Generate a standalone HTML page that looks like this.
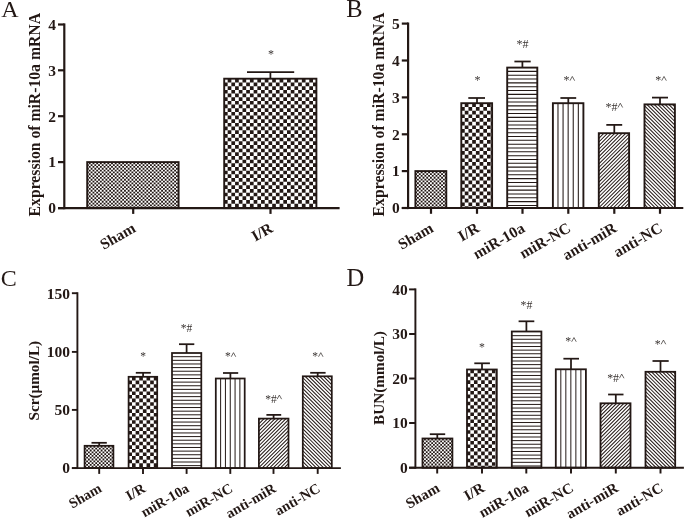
<!DOCTYPE html>
<html><head><meta charset="utf-8"><title>Figure</title>
<style>
html,body{margin:0;padding:0;background:#fff;}
body{width:685px;height:519px;overflow:hidden;font-family:"Liberation Serif",serif;}
svg{display:block;will-change:transform;}
</style></head><body>
<svg width="685" height="519" viewBox="0 0 685 519">
<rect width="685" height="519" fill="#fff"/>

<g id="panelA">
<clipPath id="c1"><rect x="87.2" y="162.1" width="91.40" height="46.00"/></clipPath>
<g clip-path="url(#c1)">
<line x1="88.80" y1="163.22" x2="178.60" y2="163.22" stroke="#231815" stroke-width="1.835" stroke-dasharray="1.855 1.855"/>
<line x1="86.94" y1="165.05" x2="178.60" y2="165.05" stroke="#231815" stroke-width="1.835" stroke-dasharray="1.855 1.855"/>
<line x1="88.80" y1="166.89" x2="178.60" y2="166.89" stroke="#231815" stroke-width="1.835" stroke-dasharray="1.855 1.855"/>
<line x1="86.94" y1="168.72" x2="178.60" y2="168.72" stroke="#231815" stroke-width="1.835" stroke-dasharray="1.855 1.855"/>
<line x1="88.80" y1="170.56" x2="178.60" y2="170.56" stroke="#231815" stroke-width="1.835" stroke-dasharray="1.855 1.855"/>
<line x1="86.94" y1="172.39" x2="178.60" y2="172.39" stroke="#231815" stroke-width="1.835" stroke-dasharray="1.855 1.855"/>
<line x1="88.80" y1="174.23" x2="178.60" y2="174.23" stroke="#231815" stroke-width="1.835" stroke-dasharray="1.855 1.855"/>
<line x1="86.94" y1="176.06" x2="178.60" y2="176.06" stroke="#231815" stroke-width="1.835" stroke-dasharray="1.855 1.855"/>
<line x1="88.80" y1="177.90" x2="178.60" y2="177.90" stroke="#231815" stroke-width="1.835" stroke-dasharray="1.855 1.855"/>
<line x1="86.94" y1="179.73" x2="178.60" y2="179.73" stroke="#231815" stroke-width="1.835" stroke-dasharray="1.855 1.855"/>
<line x1="88.80" y1="181.57" x2="178.60" y2="181.57" stroke="#231815" stroke-width="1.835" stroke-dasharray="1.855 1.855"/>
<line x1="86.94" y1="183.40" x2="178.60" y2="183.40" stroke="#231815" stroke-width="1.835" stroke-dasharray="1.855 1.855"/>
<line x1="88.80" y1="185.24" x2="178.60" y2="185.24" stroke="#231815" stroke-width="1.835" stroke-dasharray="1.855 1.855"/>
<line x1="86.94" y1="187.07" x2="178.60" y2="187.07" stroke="#231815" stroke-width="1.835" stroke-dasharray="1.855 1.855"/>
<line x1="88.80" y1="188.91" x2="178.60" y2="188.91" stroke="#231815" stroke-width="1.835" stroke-dasharray="1.855 1.855"/>
<line x1="86.94" y1="190.74" x2="178.60" y2="190.74" stroke="#231815" stroke-width="1.835" stroke-dasharray="1.855 1.855"/>
<line x1="88.80" y1="192.58" x2="178.60" y2="192.58" stroke="#231815" stroke-width="1.835" stroke-dasharray="1.855 1.855"/>
<line x1="86.94" y1="194.41" x2="178.60" y2="194.41" stroke="#231815" stroke-width="1.835" stroke-dasharray="1.855 1.855"/>
<line x1="88.80" y1="196.25" x2="178.60" y2="196.25" stroke="#231815" stroke-width="1.835" stroke-dasharray="1.855 1.855"/>
<line x1="86.94" y1="198.08" x2="178.60" y2="198.08" stroke="#231815" stroke-width="1.835" stroke-dasharray="1.855 1.855"/>
<line x1="88.80" y1="199.92" x2="178.60" y2="199.92" stroke="#231815" stroke-width="1.835" stroke-dasharray="1.855 1.855"/>
<line x1="86.94" y1="201.75" x2="178.60" y2="201.75" stroke="#231815" stroke-width="1.835" stroke-dasharray="1.855 1.855"/>
<line x1="88.80" y1="203.59" x2="178.60" y2="203.59" stroke="#231815" stroke-width="1.835" stroke-dasharray="1.855 1.855"/>
<line x1="86.94" y1="205.42" x2="178.60" y2="205.42" stroke="#231815" stroke-width="1.835" stroke-dasharray="1.855 1.855"/>
<line x1="88.80" y1="207.26" x2="178.60" y2="207.26" stroke="#231815" stroke-width="1.835" stroke-dasharray="1.855 1.855"/>
</g>
<rect x="87.2" y="162.1" width="91.40" height="46.00" fill="none" stroke="#231815" stroke-width="1.9"/>
<line x1="270.4" y1="78.7" x2="270.4" y2="72.0" stroke="#231815" stroke-width="1.75"/>
<line x1="247.0" y1="72.0" x2="294.2" y2="72.0" stroke="#231815" stroke-width="1.75"/>
<clipPath id="c2"><rect x="224.2" y="78.7" width="92.20" height="129.40"/></clipPath>
<g clip-path="url(#c2)">
<line x1="227.65" y1="80.73" x2="316.40" y2="80.73" stroke="#231815" stroke-width="3.670" stroke-dasharray="3.710 3.710"/>
<line x1="223.94" y1="84.41" x2="316.40" y2="84.41" stroke="#231815" stroke-width="3.670" stroke-dasharray="3.710 3.710"/>
<line x1="227.65" y1="88.08" x2="316.40" y2="88.08" stroke="#231815" stroke-width="3.670" stroke-dasharray="3.710 3.710"/>
<line x1="223.94" y1="91.75" x2="316.40" y2="91.75" stroke="#231815" stroke-width="3.670" stroke-dasharray="3.710 3.710"/>
<line x1="227.65" y1="95.42" x2="316.40" y2="95.42" stroke="#231815" stroke-width="3.670" stroke-dasharray="3.710 3.710"/>
<line x1="223.94" y1="99.09" x2="316.40" y2="99.09" stroke="#231815" stroke-width="3.670" stroke-dasharray="3.710 3.710"/>
<line x1="227.65" y1="102.76" x2="316.40" y2="102.76" stroke="#231815" stroke-width="3.670" stroke-dasharray="3.710 3.710"/>
<line x1="223.94" y1="106.43" x2="316.40" y2="106.43" stroke="#231815" stroke-width="3.670" stroke-dasharray="3.710 3.710"/>
<line x1="227.65" y1="110.10" x2="316.40" y2="110.10" stroke="#231815" stroke-width="3.670" stroke-dasharray="3.710 3.710"/>
<line x1="223.94" y1="113.77" x2="316.40" y2="113.77" stroke="#231815" stroke-width="3.670" stroke-dasharray="3.710 3.710"/>
<line x1="227.65" y1="117.44" x2="316.40" y2="117.44" stroke="#231815" stroke-width="3.670" stroke-dasharray="3.710 3.710"/>
<line x1="223.94" y1="121.11" x2="316.40" y2="121.11" stroke="#231815" stroke-width="3.670" stroke-dasharray="3.710 3.710"/>
<line x1="227.65" y1="124.78" x2="316.40" y2="124.78" stroke="#231815" stroke-width="3.670" stroke-dasharray="3.710 3.710"/>
<line x1="223.94" y1="128.45" x2="316.40" y2="128.45" stroke="#231815" stroke-width="3.670" stroke-dasharray="3.710 3.710"/>
<line x1="227.65" y1="132.12" x2="316.40" y2="132.12" stroke="#231815" stroke-width="3.670" stroke-dasharray="3.710 3.710"/>
<line x1="223.94" y1="135.79" x2="316.40" y2="135.79" stroke="#231815" stroke-width="3.670" stroke-dasharray="3.710 3.710"/>
<line x1="227.65" y1="139.46" x2="316.40" y2="139.46" stroke="#231815" stroke-width="3.670" stroke-dasharray="3.710 3.710"/>
<line x1="223.94" y1="143.12" x2="316.40" y2="143.12" stroke="#231815" stroke-width="3.670" stroke-dasharray="3.710 3.710"/>
<line x1="227.65" y1="146.79" x2="316.40" y2="146.79" stroke="#231815" stroke-width="3.670" stroke-dasharray="3.710 3.710"/>
<line x1="223.94" y1="150.46" x2="316.40" y2="150.46" stroke="#231815" stroke-width="3.670" stroke-dasharray="3.710 3.710"/>
<line x1="227.65" y1="154.13" x2="316.40" y2="154.13" stroke="#231815" stroke-width="3.670" stroke-dasharray="3.710 3.710"/>
<line x1="223.94" y1="157.80" x2="316.40" y2="157.80" stroke="#231815" stroke-width="3.670" stroke-dasharray="3.710 3.710"/>
<line x1="227.65" y1="161.47" x2="316.40" y2="161.47" stroke="#231815" stroke-width="3.670" stroke-dasharray="3.710 3.710"/>
<line x1="223.94" y1="165.14" x2="316.40" y2="165.14" stroke="#231815" stroke-width="3.670" stroke-dasharray="3.710 3.710"/>
<line x1="227.65" y1="168.81" x2="316.40" y2="168.81" stroke="#231815" stroke-width="3.670" stroke-dasharray="3.710 3.710"/>
<line x1="223.94" y1="172.48" x2="316.40" y2="172.48" stroke="#231815" stroke-width="3.670" stroke-dasharray="3.710 3.710"/>
<line x1="227.65" y1="176.15" x2="316.40" y2="176.15" stroke="#231815" stroke-width="3.670" stroke-dasharray="3.710 3.710"/>
<line x1="223.94" y1="179.82" x2="316.40" y2="179.82" stroke="#231815" stroke-width="3.670" stroke-dasharray="3.710 3.710"/>
<line x1="227.65" y1="183.49" x2="316.40" y2="183.49" stroke="#231815" stroke-width="3.670" stroke-dasharray="3.710 3.710"/>
<line x1="223.94" y1="187.16" x2="316.40" y2="187.16" stroke="#231815" stroke-width="3.670" stroke-dasharray="3.710 3.710"/>
<line x1="227.65" y1="190.83" x2="316.40" y2="190.83" stroke="#231815" stroke-width="3.670" stroke-dasharray="3.710 3.710"/>
<line x1="223.94" y1="194.50" x2="316.40" y2="194.50" stroke="#231815" stroke-width="3.670" stroke-dasharray="3.710 3.710"/>
<line x1="227.65" y1="198.17" x2="316.40" y2="198.17" stroke="#231815" stroke-width="3.670" stroke-dasharray="3.710 3.710"/>
<line x1="223.94" y1="201.84" x2="316.40" y2="201.84" stroke="#231815" stroke-width="3.670" stroke-dasharray="3.710 3.710"/>
<line x1="227.65" y1="205.51" x2="316.40" y2="205.51" stroke="#231815" stroke-width="3.670" stroke-dasharray="3.710 3.710"/>
<line x1="223.94" y1="209.18" x2="316.40" y2="209.18" stroke="#231815" stroke-width="3.670" stroke-dasharray="3.710 3.710"/>
</g>
<rect x="224.2" y="78.7" width="92.20" height="129.40" fill="none" stroke="#231815" stroke-width="1.9"/>
<text x="267.90" y="57.60" font-family="Liberation Serif, serif" font-size="12" fill="#3a3432">*</text>
<line x1="64.3" y1="23.4" x2="64.3" y2="209.2" stroke="#231815" stroke-width="2.2"/>
<line x1="58.0" y1="208.1" x2="339.6" y2="208.1" stroke="#231815" stroke-width="2.2"/>
<line x1="58.0" y1="208.1" x2="64.3" y2="208.1" stroke="#231815" stroke-width="2.2"/>
<text x="56.0" y="213.4" font-family="Liberation Serif, serif" font-weight="bold" font-size="15.5" fill="#231815" text-anchor="end">0</text>
<line x1="58.0" y1="162.1" x2="64.3" y2="162.1" stroke="#231815" stroke-width="2.2"/>
<text x="56.0" y="167.4" font-family="Liberation Serif, serif" font-weight="bold" font-size="15.5" fill="#231815" text-anchor="end">1</text>
<line x1="58.0" y1="116.2" x2="64.3" y2="116.2" stroke="#231815" stroke-width="2.2"/>
<text x="56.0" y="121.5" font-family="Liberation Serif, serif" font-weight="bold" font-size="15.5" fill="#231815" text-anchor="end">2</text>
<line x1="58.0" y1="70.3" x2="64.3" y2="70.3" stroke="#231815" stroke-width="2.2"/>
<text x="56.0" y="75.6" font-family="Liberation Serif, serif" font-weight="bold" font-size="15.5" fill="#231815" text-anchor="end">3</text>
<line x1="58.0" y1="24.5" x2="64.3" y2="24.5" stroke="#231815" stroke-width="2.2"/>
<text x="56.0" y="29.8" font-family="Liberation Serif, serif" font-weight="bold" font-size="15.5" fill="#231815" text-anchor="end">4</text>
<line x1="133.2" y1="208.1" x2="133.2" y2="213.9" stroke="#231815" stroke-width="2.2"/>
<text transform="translate(136.7,231.1) rotate(-30)" font-family="Liberation Serif, serif" font-weight="bold" font-size="15.5" fill="#231815" text-anchor="end">Sham</text>
<line x1="270.5" y1="208.1" x2="270.5" y2="213.9" stroke="#231815" stroke-width="2.2"/>
<text transform="translate(274.0,231.1) rotate(-30)" font-family="Liberation Serif, serif" font-weight="bold" font-size="15.5" fill="#231815" text-anchor="end">I/R</text>
<text transform="translate(39.8,216.4) rotate(-90)" font-family="Liberation Serif, serif" font-weight="bold" font-size="16" fill="#231815" textLength="203.4" lengthAdjust="spacingAndGlyphs">Expression of miR-10a mRNA</text>
<text x="1.3" y="17.2" font-family="Liberation Serif, serif" font-size="24" fill="#231815">A</text>
</g>
<g id="panelB">
<clipPath id="c3"><rect x="415.4" y="171.1" width="30.90" height="36.90"/></clipPath>
<g clip-path="url(#c3)">
<line x1="417.00" y1="172.22" x2="446.30" y2="172.22" stroke="#231815" stroke-width="1.835" stroke-dasharray="1.855 1.855"/>
<line x1="415.14" y1="174.05" x2="446.30" y2="174.05" stroke="#231815" stroke-width="1.835" stroke-dasharray="1.855 1.855"/>
<line x1="417.00" y1="175.89" x2="446.30" y2="175.89" stroke="#231815" stroke-width="1.835" stroke-dasharray="1.855 1.855"/>
<line x1="415.14" y1="177.72" x2="446.30" y2="177.72" stroke="#231815" stroke-width="1.835" stroke-dasharray="1.855 1.855"/>
<line x1="417.00" y1="179.56" x2="446.30" y2="179.56" stroke="#231815" stroke-width="1.835" stroke-dasharray="1.855 1.855"/>
<line x1="415.14" y1="181.39" x2="446.30" y2="181.39" stroke="#231815" stroke-width="1.835" stroke-dasharray="1.855 1.855"/>
<line x1="417.00" y1="183.23" x2="446.30" y2="183.23" stroke="#231815" stroke-width="1.835" stroke-dasharray="1.855 1.855"/>
<line x1="415.14" y1="185.06" x2="446.30" y2="185.06" stroke="#231815" stroke-width="1.835" stroke-dasharray="1.855 1.855"/>
<line x1="417.00" y1="186.90" x2="446.30" y2="186.90" stroke="#231815" stroke-width="1.835" stroke-dasharray="1.855 1.855"/>
<line x1="415.14" y1="188.73" x2="446.30" y2="188.73" stroke="#231815" stroke-width="1.835" stroke-dasharray="1.855 1.855"/>
<line x1="417.00" y1="190.57" x2="446.30" y2="190.57" stroke="#231815" stroke-width="1.835" stroke-dasharray="1.855 1.855"/>
<line x1="415.14" y1="192.40" x2="446.30" y2="192.40" stroke="#231815" stroke-width="1.835" stroke-dasharray="1.855 1.855"/>
<line x1="417.00" y1="194.24" x2="446.30" y2="194.24" stroke="#231815" stroke-width="1.835" stroke-dasharray="1.855 1.855"/>
<line x1="415.14" y1="196.07" x2="446.30" y2="196.07" stroke="#231815" stroke-width="1.835" stroke-dasharray="1.855 1.855"/>
<line x1="417.00" y1="197.91" x2="446.30" y2="197.91" stroke="#231815" stroke-width="1.835" stroke-dasharray="1.855 1.855"/>
<line x1="415.14" y1="199.74" x2="446.30" y2="199.74" stroke="#231815" stroke-width="1.835" stroke-dasharray="1.855 1.855"/>
<line x1="417.00" y1="201.58" x2="446.30" y2="201.58" stroke="#231815" stroke-width="1.835" stroke-dasharray="1.855 1.855"/>
<line x1="415.14" y1="203.41" x2="446.30" y2="203.41" stroke="#231815" stroke-width="1.835" stroke-dasharray="1.855 1.855"/>
<line x1="417.00" y1="205.25" x2="446.30" y2="205.25" stroke="#231815" stroke-width="1.835" stroke-dasharray="1.855 1.855"/>
<line x1="415.14" y1="207.08" x2="446.30" y2="207.08" stroke="#231815" stroke-width="1.835" stroke-dasharray="1.855 1.855"/>
</g>
<rect x="415.4" y="171.1" width="30.90" height="36.90" fill="none" stroke="#231815" stroke-width="1.9"/>
<line x1="477.0" y1="103.2" x2="477.0" y2="98.0" stroke="#231815" stroke-width="1.75"/>
<line x1="468.3" y1="98.0" x2="485.0" y2="98.0" stroke="#231815" stroke-width="1.75"/>
<clipPath id="c4"><rect x="461.3" y="103.2" width="30.80" height="104.80"/></clipPath>
<g clip-path="url(#c4)">
<line x1="464.75" y1="105.23" x2="492.10" y2="105.23" stroke="#231815" stroke-width="3.670" stroke-dasharray="3.710 3.710"/>
<line x1="461.04" y1="108.91" x2="492.10" y2="108.91" stroke="#231815" stroke-width="3.670" stroke-dasharray="3.710 3.710"/>
<line x1="464.75" y1="112.58" x2="492.10" y2="112.58" stroke="#231815" stroke-width="3.670" stroke-dasharray="3.710 3.710"/>
<line x1="461.04" y1="116.25" x2="492.10" y2="116.25" stroke="#231815" stroke-width="3.670" stroke-dasharray="3.710 3.710"/>
<line x1="464.75" y1="119.92" x2="492.10" y2="119.92" stroke="#231815" stroke-width="3.670" stroke-dasharray="3.710 3.710"/>
<line x1="461.04" y1="123.59" x2="492.10" y2="123.59" stroke="#231815" stroke-width="3.670" stroke-dasharray="3.710 3.710"/>
<line x1="464.75" y1="127.26" x2="492.10" y2="127.26" stroke="#231815" stroke-width="3.670" stroke-dasharray="3.710 3.710"/>
<line x1="461.04" y1="130.93" x2="492.10" y2="130.93" stroke="#231815" stroke-width="3.670" stroke-dasharray="3.710 3.710"/>
<line x1="464.75" y1="134.59" x2="492.10" y2="134.59" stroke="#231815" stroke-width="3.670" stroke-dasharray="3.710 3.710"/>
<line x1="461.04" y1="138.26" x2="492.10" y2="138.26" stroke="#231815" stroke-width="3.670" stroke-dasharray="3.710 3.710"/>
<line x1="464.75" y1="141.93" x2="492.10" y2="141.93" stroke="#231815" stroke-width="3.670" stroke-dasharray="3.710 3.710"/>
<line x1="461.04" y1="145.60" x2="492.10" y2="145.60" stroke="#231815" stroke-width="3.670" stroke-dasharray="3.710 3.710"/>
<line x1="464.75" y1="149.27" x2="492.10" y2="149.27" stroke="#231815" stroke-width="3.670" stroke-dasharray="3.710 3.710"/>
<line x1="461.04" y1="152.94" x2="492.10" y2="152.94" stroke="#231815" stroke-width="3.670" stroke-dasharray="3.710 3.710"/>
<line x1="464.75" y1="156.61" x2="492.10" y2="156.61" stroke="#231815" stroke-width="3.670" stroke-dasharray="3.710 3.710"/>
<line x1="461.04" y1="160.28" x2="492.10" y2="160.28" stroke="#231815" stroke-width="3.670" stroke-dasharray="3.710 3.710"/>
<line x1="464.75" y1="163.95" x2="492.10" y2="163.95" stroke="#231815" stroke-width="3.670" stroke-dasharray="3.710 3.710"/>
<line x1="461.04" y1="167.62" x2="492.10" y2="167.62" stroke="#231815" stroke-width="3.670" stroke-dasharray="3.710 3.710"/>
<line x1="464.75" y1="171.29" x2="492.10" y2="171.29" stroke="#231815" stroke-width="3.670" stroke-dasharray="3.710 3.710"/>
<line x1="461.04" y1="174.96" x2="492.10" y2="174.96" stroke="#231815" stroke-width="3.670" stroke-dasharray="3.710 3.710"/>
<line x1="464.75" y1="178.63" x2="492.10" y2="178.63" stroke="#231815" stroke-width="3.670" stroke-dasharray="3.710 3.710"/>
<line x1="461.04" y1="182.30" x2="492.10" y2="182.30" stroke="#231815" stroke-width="3.670" stroke-dasharray="3.710 3.710"/>
<line x1="464.75" y1="185.97" x2="492.10" y2="185.97" stroke="#231815" stroke-width="3.670" stroke-dasharray="3.710 3.710"/>
<line x1="461.04" y1="189.64" x2="492.10" y2="189.64" stroke="#231815" stroke-width="3.670" stroke-dasharray="3.710 3.710"/>
<line x1="464.75" y1="193.31" x2="492.10" y2="193.31" stroke="#231815" stroke-width="3.670" stroke-dasharray="3.710 3.710"/>
<line x1="461.04" y1="196.98" x2="492.10" y2="196.98" stroke="#231815" stroke-width="3.670" stroke-dasharray="3.710 3.710"/>
<line x1="464.75" y1="200.65" x2="492.10" y2="200.65" stroke="#231815" stroke-width="3.670" stroke-dasharray="3.710 3.710"/>
<line x1="461.04" y1="204.32" x2="492.10" y2="204.32" stroke="#231815" stroke-width="3.670" stroke-dasharray="3.710 3.710"/>
<line x1="464.75" y1="207.99" x2="492.10" y2="207.99" stroke="#231815" stroke-width="3.670" stroke-dasharray="3.710 3.710"/>
</g>
<rect x="461.3" y="103.2" width="30.80" height="104.80" fill="none" stroke="#231815" stroke-width="1.9"/>
<text x="474.50" y="84.30" font-family="Liberation Serif, serif" font-size="12" fill="#3a3432">*</text>
<line x1="522.4" y1="67.6" x2="522.4" y2="61.5" stroke="#231815" stroke-width="1.75"/>
<line x1="514.4" y1="61.5" x2="530.7" y2="61.5" stroke="#231815" stroke-width="1.75"/>
<clipPath id="c5"><rect x="507.2" y="67.6" width="30.10" height="140.40"/></clipPath>
<g clip-path="url(#c5)">
<path d="M507.20 71.39H537.30M507.20 75.22H537.30M507.20 79.05H537.30M507.20 82.88H537.30M507.20 86.71H537.30M507.20 90.54H537.30M507.20 94.37H537.30M507.20 98.20H537.30M507.20 102.03H537.30M507.20 105.86H537.30M507.20 109.69H537.30M507.20 113.52H537.30M507.20 117.35H537.30M507.20 121.18H537.30M507.20 125.01H537.30M507.20 128.84H537.30M507.20 132.67H537.30M507.20 136.50H537.30M507.20 140.33H537.30M507.20 144.16H537.30M507.20 147.99H537.30M507.20 151.82H537.30M507.20 155.65H537.30M507.20 159.48H537.30M507.20 163.31H537.30M507.20 167.14H537.30M507.20 170.97H537.30M507.20 174.80H537.30M507.20 178.63H537.30M507.20 182.46H537.30M507.20 186.29H537.30M507.20 190.12H537.30M507.20 193.95H537.30M507.20 197.78H537.30M507.20 201.61H537.30M507.20 205.44H537.30" stroke="#231815" stroke-width="1.05" fill="none"/>
</g>
<rect x="507.2" y="67.6" width="30.10" height="140.40" fill="none" stroke="#231815" stroke-width="1.9"/>
<text x="516.40" y="48.10" font-family="Liberation Serif, serif" font-size="12" fill="#3a3432">*#</text>
<line x1="568.3" y1="103.2" x2="568.3" y2="98.0" stroke="#231815" stroke-width="1.75"/>
<line x1="560.4" y1="98.0" x2="576.2" y2="98.0" stroke="#231815" stroke-width="1.75"/>
<clipPath id="c6"><rect x="552.9" y="103.2" width="30.50" height="104.80"/></clipPath>
<g clip-path="url(#c6)">
<path d="M557.98 103.20V208.00M563.07 103.20V208.00M568.15 103.20V208.00M573.23 103.20V208.00M578.32 103.20V208.00" stroke="#231815" stroke-width="1.05" fill="none"/>
</g>
<rect x="552.9" y="103.2" width="30.50" height="104.80" fill="none" stroke="#231815" stroke-width="1.9"/>
<text x="563.49" y="84.30" font-family="Liberation Serif, serif" font-size="12" fill="#3a3432">*</text>
<path d="M569.97 80.70L572.31 76.44L574.65 80.70" fill="none" stroke="#3a3432" stroke-width="0.75" stroke-linejoin="miter"/>
<line x1="614.3" y1="133.2" x2="614.3" y2="124.9" stroke="#231815" stroke-width="1.75"/>
<line x1="606.3" y1="124.9" x2="622.2" y2="124.9" stroke="#231815" stroke-width="1.75"/>
<clipPath id="c7"><rect x="598.8" y="133.2" width="30.30" height="74.80"/></clipPath>
<g clip-path="url(#c7)">
<path d="M600.35 133.20l-74.80 74.80M604.00 133.20l-74.80 74.80M607.65 133.20l-74.80 74.80M611.30 133.20l-74.80 74.80M614.95 133.20l-74.80 74.80M618.60 133.20l-74.80 74.80M622.25 133.20l-74.80 74.80M625.90 133.20l-74.80 74.80M629.55 133.20l-74.80 74.80M633.20 133.20l-74.80 74.80M636.85 133.20l-74.80 74.80M640.50 133.20l-74.80 74.80M644.15 133.20l-74.80 74.80M647.80 133.20l-74.80 74.80M651.45 133.20l-74.80 74.80M655.10 133.20l-74.80 74.80M658.75 133.20l-74.80 74.80M662.40 133.20l-74.80 74.80M666.05 133.20l-74.80 74.80M669.70 133.20l-74.80 74.80M673.35 133.20l-74.80 74.80M677.00 133.20l-74.80 74.80M680.65 133.20l-74.80 74.80M684.30 133.20l-74.80 74.80M687.95 133.20l-74.80 74.80M691.60 133.20l-74.80 74.80M695.25 133.20l-74.80 74.80M698.90 133.20l-74.80 74.80M702.55 133.20l-74.80 74.80" stroke="#231815" stroke-width="1.02" fill="none"/>
</g>
<rect x="598.8" y="133.2" width="30.30" height="74.80" fill="none" stroke="#231815" stroke-width="1.9"/>
<text x="605.49" y="111.10" font-family="Liberation Serif, serif" font-size="12" fill="#3a3432">*#</text>
<path d="M617.97 107.50L620.31 103.24L622.65 107.50" fill="none" stroke="#3a3432" stroke-width="0.75" stroke-linejoin="miter"/>
<line x1="660.0" y1="104.4" x2="660.0" y2="97.6" stroke="#231815" stroke-width="1.75"/>
<line x1="652.0" y1="97.6" x2="668.0" y2="97.6" stroke="#231815" stroke-width="1.75"/>
<clipPath id="c8"><rect x="644.5" y="104.4" width="30.40" height="103.60"/></clipPath>
<g clip-path="url(#c8)">
<path d="M537.30 104.40l103.60 103.60M540.95 104.40l103.60 103.60M544.60 104.40l103.60 103.60M548.25 104.40l103.60 103.60M551.90 104.40l103.60 103.60M555.55 104.40l103.60 103.60M559.20 104.40l103.60 103.60M562.85 104.40l103.60 103.60M566.50 104.40l103.60 103.60M570.15 104.40l103.60 103.60M573.80 104.40l103.60 103.60M577.45 104.40l103.60 103.60M581.10 104.40l103.60 103.60M584.75 104.40l103.60 103.60M588.40 104.40l103.60 103.60M592.05 104.40l103.60 103.60M595.70 104.40l103.60 103.60M599.35 104.40l103.60 103.60M603.00 104.40l103.60 103.60M606.65 104.40l103.60 103.60M610.30 104.40l103.60 103.60M613.95 104.40l103.60 103.60M617.60 104.40l103.60 103.60M621.25 104.40l103.60 103.60M624.90 104.40l103.60 103.60M628.55 104.40l103.60 103.60M632.20 104.40l103.60 103.60M635.85 104.40l103.60 103.60M639.50 104.40l103.60 103.60M643.15 104.40l103.60 103.60M646.80 104.40l103.60 103.60M650.45 104.40l103.60 103.60M654.10 104.40l103.60 103.60M657.75 104.40l103.60 103.60M661.40 104.40l103.60 103.60M665.05 104.40l103.60 103.60M668.70 104.40l103.60 103.60M672.35 104.40l103.60 103.60" stroke="#231815" stroke-width="1.02" fill="none"/>
</g>
<rect x="644.5" y="104.4" width="30.40" height="103.60" fill="none" stroke="#231815" stroke-width="1.9"/>
<text x="655.19" y="84.30" font-family="Liberation Serif, serif" font-size="12" fill="#3a3432">*</text>
<path d="M661.67 80.70L664.01 76.44L666.35 80.70" fill="none" stroke="#3a3432" stroke-width="0.75" stroke-linejoin="miter"/>
<line x1="408.1" y1="22.5" x2="408.1" y2="209.1" stroke="#231815" stroke-width="2.2"/>
<line x1="401.8" y1="208.0" x2="683.3" y2="208.0" stroke="#231815" stroke-width="2.2"/>
<line x1="401.8" y1="208.0" x2="408.1" y2="208.0" stroke="#231815" stroke-width="2.2"/>
<text x="399.8" y="213.3" font-family="Liberation Serif, serif" font-weight="bold" font-size="15.5" fill="#231815" text-anchor="end">0</text>
<line x1="401.8" y1="171.1" x2="408.1" y2="171.1" stroke="#231815" stroke-width="2.2"/>
<text x="399.8" y="176.4" font-family="Liberation Serif, serif" font-weight="bold" font-size="15.5" fill="#231815" text-anchor="end">1</text>
<line x1="401.8" y1="134.3" x2="408.1" y2="134.3" stroke="#231815" stroke-width="2.2"/>
<text x="399.8" y="139.60000000000002" font-family="Liberation Serif, serif" font-weight="bold" font-size="15.5" fill="#231815" text-anchor="end">2</text>
<line x1="401.8" y1="97.4" x2="408.1" y2="97.4" stroke="#231815" stroke-width="2.2"/>
<text x="399.8" y="102.7" font-family="Liberation Serif, serif" font-weight="bold" font-size="15.5" fill="#231815" text-anchor="end">3</text>
<line x1="401.8" y1="60.5" x2="408.1" y2="60.5" stroke="#231815" stroke-width="2.2"/>
<text x="399.8" y="65.8" font-family="Liberation Serif, serif" font-weight="bold" font-size="15.5" fill="#231815" text-anchor="end">4</text>
<line x1="401.8" y1="23.6" x2="408.1" y2="23.6" stroke="#231815" stroke-width="2.2"/>
<text x="399.8" y="28.900000000000002" font-family="Liberation Serif, serif" font-weight="bold" font-size="15.5" fill="#231815" text-anchor="end">5</text>
<line x1="431" y1="208.0" x2="431" y2="213.8" stroke="#231815" stroke-width="2.2"/>
<text transform="translate(434.5,231.0) rotate(-30)" font-family="Liberation Serif, serif" font-weight="bold" font-size="15.5" fill="#231815" text-anchor="end">Sham</text>
<line x1="477" y1="208.0" x2="477" y2="213.8" stroke="#231815" stroke-width="2.2"/>
<text transform="translate(480.5,231.0) rotate(-30)" font-family="Liberation Serif, serif" font-weight="bold" font-size="15.5" fill="#231815" text-anchor="end">I/R</text>
<line x1="522.5" y1="208.0" x2="522.5" y2="213.8" stroke="#231815" stroke-width="2.2"/>
<text transform="translate(526.0,231.0) rotate(-30)" font-family="Liberation Serif, serif" font-weight="bold" font-size="15.5" fill="#231815" text-anchor="end">miR-10a</text>
<line x1="568.3" y1="208.0" x2="568.3" y2="213.8" stroke="#231815" stroke-width="2.2"/>
<text transform="translate(571.8,231.0) rotate(-30)" font-family="Liberation Serif, serif" font-weight="bold" font-size="15.5" fill="#231815" text-anchor="end">miR-NC</text>
<line x1="614.3" y1="208.0" x2="614.3" y2="213.8" stroke="#231815" stroke-width="2.2"/>
<text transform="translate(617.8,231.0) rotate(-30)" font-family="Liberation Serif, serif" font-weight="bold" font-size="15.5" fill="#231815" text-anchor="end">anti-miR</text>
<line x1="660" y1="208.0" x2="660" y2="213.8" stroke="#231815" stroke-width="2.2"/>
<text transform="translate(663.5,231.0) rotate(-30)" font-family="Liberation Serif, serif" font-weight="bold" font-size="15.5" fill="#231815" text-anchor="end">anti-NC</text>
<text transform="translate(384.3,216.4) rotate(-90)" font-family="Liberation Serif, serif" font-weight="bold" font-size="16" fill="#231815" textLength="203.8" lengthAdjust="spacingAndGlyphs">Expression of miR-10a mRNA</text>
<text x="346.2" y="17.2" font-family="Liberation Serif, serif" font-size="24.5" fill="#231815">B</text>
</g>
<g id="panelC">
<line x1="99.2" y1="445.8" x2="99.2" y2="442.8" stroke="#231815" stroke-width="1.75"/>
<line x1="91.5" y1="442.8" x2="106.8" y2="442.8" stroke="#231815" stroke-width="1.75"/>
<clipPath id="c9"><rect x="84.6" y="445.8" width="28.80" height="22.30"/></clipPath>
<g clip-path="url(#c9)">
<line x1="86.16" y1="446.90" x2="113.40" y2="446.90" stroke="#231815" stroke-width="1.798" stroke-dasharray="1.818 1.818"/>
<line x1="84.35" y1="448.69" x2="113.40" y2="448.69" stroke="#231815" stroke-width="1.798" stroke-dasharray="1.818 1.818"/>
<line x1="86.16" y1="450.49" x2="113.40" y2="450.49" stroke="#231815" stroke-width="1.798" stroke-dasharray="1.818 1.818"/>
<line x1="84.35" y1="452.29" x2="113.40" y2="452.29" stroke="#231815" stroke-width="1.798" stroke-dasharray="1.818 1.818"/>
<line x1="86.16" y1="454.09" x2="113.40" y2="454.09" stroke="#231815" stroke-width="1.798" stroke-dasharray="1.818 1.818"/>
<line x1="84.35" y1="455.89" x2="113.40" y2="455.89" stroke="#231815" stroke-width="1.798" stroke-dasharray="1.818 1.818"/>
<line x1="86.16" y1="457.68" x2="113.40" y2="457.68" stroke="#231815" stroke-width="1.798" stroke-dasharray="1.818 1.818"/>
<line x1="84.35" y1="459.48" x2="113.40" y2="459.48" stroke="#231815" stroke-width="1.798" stroke-dasharray="1.818 1.818"/>
<line x1="86.16" y1="461.28" x2="113.40" y2="461.28" stroke="#231815" stroke-width="1.798" stroke-dasharray="1.818 1.818"/>
<line x1="84.35" y1="463.08" x2="113.40" y2="463.08" stroke="#231815" stroke-width="1.798" stroke-dasharray="1.818 1.818"/>
<line x1="86.16" y1="464.88" x2="113.40" y2="464.88" stroke="#231815" stroke-width="1.798" stroke-dasharray="1.818 1.818"/>
<line x1="84.35" y1="466.68" x2="113.40" y2="466.68" stroke="#231815" stroke-width="1.798" stroke-dasharray="1.818 1.818"/>
<line x1="86.16" y1="468.47" x2="113.40" y2="468.47" stroke="#231815" stroke-width="1.798" stroke-dasharray="1.818 1.818"/>
</g>
<rect x="84.6" y="445.8" width="28.80" height="22.30" fill="none" stroke="#231815" stroke-width="1.75"/>
<line x1="143.1" y1="376.8" x2="143.1" y2="372.8" stroke="#231815" stroke-width="1.75"/>
<line x1="135.8" y1="372.8" x2="150.8" y2="372.8" stroke="#231815" stroke-width="1.75"/>
<clipPath id="c10"><rect x="128.6" y="376.8" width="28.60" height="91.30"/></clipPath>
<g clip-path="url(#c10)">
<line x1="131.98" y1="378.79" x2="157.20" y2="378.79" stroke="#231815" stroke-width="3.597" stroke-dasharray="3.636 3.636"/>
<line x1="128.35" y1="382.39" x2="157.20" y2="382.39" stroke="#231815" stroke-width="3.597" stroke-dasharray="3.636 3.636"/>
<line x1="131.98" y1="385.99" x2="157.20" y2="385.99" stroke="#231815" stroke-width="3.597" stroke-dasharray="3.636 3.636"/>
<line x1="128.35" y1="389.58" x2="157.20" y2="389.58" stroke="#231815" stroke-width="3.597" stroke-dasharray="3.636 3.636"/>
<line x1="131.98" y1="393.18" x2="157.20" y2="393.18" stroke="#231815" stroke-width="3.597" stroke-dasharray="3.636 3.636"/>
<line x1="128.35" y1="396.78" x2="157.20" y2="396.78" stroke="#231815" stroke-width="3.597" stroke-dasharray="3.636 3.636"/>
<line x1="131.98" y1="400.37" x2="157.20" y2="400.37" stroke="#231815" stroke-width="3.597" stroke-dasharray="3.636 3.636"/>
<line x1="128.35" y1="403.97" x2="157.20" y2="403.97" stroke="#231815" stroke-width="3.597" stroke-dasharray="3.636 3.636"/>
<line x1="131.98" y1="407.57" x2="157.20" y2="407.57" stroke="#231815" stroke-width="3.597" stroke-dasharray="3.636 3.636"/>
<line x1="128.35" y1="411.16" x2="157.20" y2="411.16" stroke="#231815" stroke-width="3.597" stroke-dasharray="3.636 3.636"/>
<line x1="131.98" y1="414.76" x2="157.20" y2="414.76" stroke="#231815" stroke-width="3.597" stroke-dasharray="3.636 3.636"/>
<line x1="128.35" y1="418.36" x2="157.20" y2="418.36" stroke="#231815" stroke-width="3.597" stroke-dasharray="3.636 3.636"/>
<line x1="131.98" y1="421.95" x2="157.20" y2="421.95" stroke="#231815" stroke-width="3.597" stroke-dasharray="3.636 3.636"/>
<line x1="128.35" y1="425.55" x2="157.20" y2="425.55" stroke="#231815" stroke-width="3.597" stroke-dasharray="3.636 3.636"/>
<line x1="131.98" y1="429.15" x2="157.20" y2="429.15" stroke="#231815" stroke-width="3.597" stroke-dasharray="3.636 3.636"/>
<line x1="128.35" y1="432.74" x2="157.20" y2="432.74" stroke="#231815" stroke-width="3.597" stroke-dasharray="3.636 3.636"/>
<line x1="131.98" y1="436.34" x2="157.20" y2="436.34" stroke="#231815" stroke-width="3.597" stroke-dasharray="3.636 3.636"/>
<line x1="128.35" y1="439.94" x2="157.20" y2="439.94" stroke="#231815" stroke-width="3.597" stroke-dasharray="3.636 3.636"/>
<line x1="131.98" y1="443.53" x2="157.20" y2="443.53" stroke="#231815" stroke-width="3.597" stroke-dasharray="3.636 3.636"/>
<line x1="128.35" y1="447.13" x2="157.20" y2="447.13" stroke="#231815" stroke-width="3.597" stroke-dasharray="3.636 3.636"/>
<line x1="131.98" y1="450.73" x2="157.20" y2="450.73" stroke="#231815" stroke-width="3.597" stroke-dasharray="3.636 3.636"/>
<line x1="128.35" y1="454.32" x2="157.20" y2="454.32" stroke="#231815" stroke-width="3.597" stroke-dasharray="3.636 3.636"/>
<line x1="131.98" y1="457.92" x2="157.20" y2="457.92" stroke="#231815" stroke-width="3.597" stroke-dasharray="3.636 3.636"/>
<line x1="128.35" y1="461.52" x2="157.20" y2="461.52" stroke="#231815" stroke-width="3.597" stroke-dasharray="3.636 3.636"/>
<line x1="131.98" y1="465.11" x2="157.20" y2="465.11" stroke="#231815" stroke-width="3.597" stroke-dasharray="3.636 3.636"/>
<line x1="128.35" y1="468.71" x2="157.20" y2="468.71" stroke="#231815" stroke-width="3.597" stroke-dasharray="3.636 3.636"/>
</g>
<rect x="128.6" y="376.8" width="28.60" height="91.30" fill="none" stroke="#231815" stroke-width="1.75"/>
<text x="140.32" y="360.20" font-family="Liberation Serif, serif" font-size="11.5" fill="#3a3432">*</text>
<line x1="186.6" y1="353.0" x2="186.6" y2="344.2" stroke="#231815" stroke-width="1.75"/>
<line x1="179.0" y1="344.2" x2="194.3" y2="344.2" stroke="#231815" stroke-width="1.75"/>
<clipPath id="c11"><rect x="172.0" y="353.0" width="29.30" height="115.10"/></clipPath>
<g clip-path="url(#c11)">
<path d="M172.00 356.70H201.30M172.00 360.33H201.30M172.00 363.97H201.30M172.00 367.60H201.30M172.00 371.23H201.30M172.00 374.86H201.30M172.00 378.49H201.30M172.00 382.12H201.30M172.00 385.75H201.30M172.00 389.38H201.30M172.00 393.01H201.30M172.00 396.64H201.30M172.00 400.27H201.30M172.00 403.90H201.30M172.00 407.54H201.30M172.00 411.17H201.30M172.00 414.80H201.30M172.00 418.43H201.30M172.00 422.06H201.30M172.00 425.69H201.30M172.00 429.32H201.30M172.00 432.95H201.30M172.00 436.58H201.30M172.00 440.21H201.30M172.00 443.84H201.30M172.00 447.47H201.30M172.00 451.11H201.30M172.00 454.74H201.30M172.00 458.37H201.30M172.00 462.00H201.30M172.00 465.63H201.30" stroke="#231815" stroke-width="1.00" fill="none"/>
</g>
<rect x="172.0" y="353.0" width="29.30" height="115.10" fill="none" stroke="#231815" stroke-width="1.75"/>
<text x="180.85" y="331.60" font-family="Liberation Serif, serif" font-size="11.5" fill="#3a3432">*#</text>
<line x1="230.4" y1="378.5" x2="230.4" y2="373.0" stroke="#231815" stroke-width="1.75"/>
<line x1="223.0" y1="373.0" x2="238.2" y2="373.0" stroke="#231815" stroke-width="1.75"/>
<clipPath id="c12"><rect x="215.8" y="378.5" width="28.90" height="89.60"/></clipPath>
<g clip-path="url(#c12)">
<path d="M220.62 378.50V468.10M225.43 378.50V468.10M230.25 378.50V468.10M235.07 378.50V468.10M239.88 378.50V468.10" stroke="#231815" stroke-width="1.00" fill="none"/>
</g>
<rect x="215.8" y="378.5" width="28.90" height="89.60" fill="none" stroke="#231815" stroke-width="1.75"/>
<text x="225.03" y="360.20" font-family="Liberation Serif, serif" font-size="11.5" fill="#3a3432">*</text>
<path d="M231.24 356.75L233.48 352.67L235.72 356.75" fill="none" stroke="#3a3432" stroke-width="0.75" stroke-linejoin="miter"/>
<line x1="273.6" y1="418.6" x2="273.6" y2="414.9" stroke="#231815" stroke-width="1.75"/>
<line x1="266.4" y1="414.9" x2="281.2" y2="414.9" stroke="#231815" stroke-width="1.75"/>
<clipPath id="c13"><rect x="258.9" y="418.6" width="29.60" height="49.50"/></clipPath>
<g clip-path="url(#c13)">
<path d="M260.45 418.60l-49.50 49.50M264.10 418.60l-49.50 49.50M267.75 418.60l-49.50 49.50M271.40 418.60l-49.50 49.50M275.05 418.60l-49.50 49.50M278.70 418.60l-49.50 49.50M282.35 418.60l-49.50 49.50M286.00 418.60l-49.50 49.50M289.65 418.60l-49.50 49.50M293.30 418.60l-49.50 49.50M296.95 418.60l-49.50 49.50M300.60 418.60l-49.50 49.50M304.25 418.60l-49.50 49.50M307.90 418.60l-49.50 49.50M311.55 418.60l-49.50 49.50M315.20 418.60l-49.50 49.50M318.85 418.60l-49.50 49.50M322.50 418.60l-49.50 49.50M326.15 418.60l-49.50 49.50M329.80 418.60l-49.50 49.50M333.45 418.60l-49.50 49.50M337.10 418.60l-49.50 49.50" stroke="#231815" stroke-width="1.02" fill="none"/>
</g>
<rect x="258.9" y="418.6" width="29.60" height="49.50" fill="none" stroke="#231815" stroke-width="1.75"/>
<text x="265.15" y="402.60" font-family="Liberation Serif, serif" font-size="11.5" fill="#3a3432">*#</text>
<path d="M277.11 399.15L279.36 395.07L281.60 399.15" fill="none" stroke="#3a3432" stroke-width="0.75" stroke-linejoin="miter"/>
<line x1="317.7" y1="376.3" x2="317.7" y2="372.8" stroke="#231815" stroke-width="1.75"/>
<line x1="310.2" y1="372.8" x2="325.6" y2="372.8" stroke="#231815" stroke-width="1.75"/>
<clipPath id="c14"><rect x="302.8" y="376.3" width="29.00" height="91.80"/></clipPath>
<g clip-path="url(#c14)">
<path d="M206.55 376.30l91.80 91.80M210.20 376.30l91.80 91.80M213.85 376.30l91.80 91.80M217.50 376.30l91.80 91.80M221.15 376.30l91.80 91.80M224.80 376.30l91.80 91.80M228.45 376.30l91.80 91.80M232.10 376.30l91.80 91.80M235.75 376.30l91.80 91.80M239.40 376.30l91.80 91.80M243.05 376.30l91.80 91.80M246.70 376.30l91.80 91.80M250.35 376.30l91.80 91.80M254.00 376.30l91.80 91.80M257.65 376.30l91.80 91.80M261.30 376.30l91.80 91.80M264.95 376.30l91.80 91.80M268.60 376.30l91.80 91.80M272.25 376.30l91.80 91.80M275.90 376.30l91.80 91.80M279.55 376.30l91.80 91.80M283.20 376.30l91.80 91.80M286.85 376.30l91.80 91.80M290.50 376.30l91.80 91.80M294.15 376.30l91.80 91.80M297.80 376.30l91.80 91.80M301.45 376.30l91.80 91.80M305.10 376.30l91.80 91.80M308.75 376.30l91.80 91.80M312.40 376.30l91.80 91.80M316.05 376.30l91.80 91.80M319.70 376.30l91.80 91.80M323.35 376.30l91.80 91.80M327.00 376.30l91.80 91.80M330.65 376.30l91.80 91.80" stroke="#231815" stroke-width="1.02" fill="none"/>
</g>
<rect x="302.8" y="376.3" width="29.00" height="91.80" fill="none" stroke="#231815" stroke-width="1.75"/>
<text x="312.33" y="360.20" font-family="Liberation Serif, serif" font-size="11.5" fill="#3a3432">*</text>
<path d="M318.54 356.75L320.78 352.67L323.02 356.75" fill="none" stroke="#3a3432" stroke-width="0.75" stroke-linejoin="miter"/>
<line x1="77.4" y1="292.25" x2="77.4" y2="469.05" stroke="#231815" stroke-width="1.9"/>
<line x1="71.9" y1="468.1" x2="340.9" y2="468.1" stroke="#231815" stroke-width="1.9"/>
<line x1="71.9" y1="468.1" x2="77.4" y2="468.1" stroke="#231815" stroke-width="1.9"/>
<text x="70.00000000000001" y="473.40000000000003" font-family="Liberation Serif, serif" font-weight="bold" font-size="15.5" fill="#231815" text-anchor="end">0</text>
<line x1="71.9" y1="409.9" x2="77.4" y2="409.9" stroke="#231815" stroke-width="1.9"/>
<text x="70.00000000000001" y="415.2" font-family="Liberation Serif, serif" font-weight="bold" font-size="15.5" fill="#231815" text-anchor="end">50</text>
<line x1="71.9" y1="351.9" x2="77.4" y2="351.9" stroke="#231815" stroke-width="1.9"/>
<text x="70.00000000000001" y="357.2" font-family="Liberation Serif, serif" font-weight="bold" font-size="15.5" fill="#231815" text-anchor="end">100</text>
<line x1="71.9" y1="293.2" x2="77.4" y2="293.2" stroke="#231815" stroke-width="1.9"/>
<text x="70.00000000000001" y="298.5" font-family="Liberation Serif, serif" font-weight="bold" font-size="15.5" fill="#231815" text-anchor="end">150</text>
<line x1="99.2" y1="468.1" x2="99.2" y2="473.90000000000003" stroke="#231815" stroke-width="1.9"/>
<text transform="translate(102.7,491.1) rotate(-30)" font-family="Liberation Serif, serif" font-weight="bold" font-size="14.4" fill="#231815" text-anchor="end">Sham</text>
<line x1="143" y1="468.1" x2="143" y2="473.90000000000003" stroke="#231815" stroke-width="1.9"/>
<text transform="translate(146.5,491.1) rotate(-30)" font-family="Liberation Serif, serif" font-weight="bold" font-size="14.4" fill="#231815" text-anchor="end">I/R</text>
<line x1="186.6" y1="468.1" x2="186.6" y2="473.90000000000003" stroke="#231815" stroke-width="1.9"/>
<text transform="translate(190.1,491.1) rotate(-30)" font-family="Liberation Serif, serif" font-weight="bold" font-size="14.4" fill="#231815" text-anchor="end">miR-10a</text>
<line x1="230.3" y1="468.1" x2="230.3" y2="473.90000000000003" stroke="#231815" stroke-width="1.9"/>
<text transform="translate(233.8,491.1) rotate(-30)" font-family="Liberation Serif, serif" font-weight="bold" font-size="14.4" fill="#231815" text-anchor="end">miR-NC</text>
<line x1="273.5" y1="468.1" x2="273.5" y2="473.90000000000003" stroke="#231815" stroke-width="1.9"/>
<text transform="translate(277.0,491.1) rotate(-30)" font-family="Liberation Serif, serif" font-weight="bold" font-size="14.4" fill="#231815" text-anchor="end">anti-miR</text>
<line x1="317.7" y1="468.1" x2="317.7" y2="473.90000000000003" stroke="#231815" stroke-width="1.9"/>
<text transform="translate(321.2,491.1) rotate(-30)" font-family="Liberation Serif, serif" font-weight="bold" font-size="14.4" fill="#231815" text-anchor="end">anti-NC</text>
<text transform="translate(39.0,420.4) rotate(-90)" font-family="Liberation Serif, serif" font-weight="bold" font-size="15.5" fill="#231815" textLength="79.5" lengthAdjust="spacingAndGlyphs">Scr(μmol/L)</text>
<text x="0.8" y="286.0" font-family="Liberation Serif, serif" font-size="24" fill="#231815">C</text>
</g>
<g id="panelD">
<line x1="437.3" y1="438.5" x2="437.3" y2="434.2" stroke="#231815" stroke-width="1.75"/>
<line x1="429.8" y1="434.2" x2="445.2" y2="434.2" stroke="#231815" stroke-width="1.75"/>
<clipPath id="c15"><rect x="422.5" y="438.5" width="29.90" height="29.20"/></clipPath>
<g clip-path="url(#c15)">
<line x1="424.05" y1="439.58" x2="452.40" y2="439.58" stroke="#231815" stroke-width="1.780" stroke-dasharray="1.799 1.799"/>
<line x1="422.25" y1="441.36" x2="452.40" y2="441.36" stroke="#231815" stroke-width="1.780" stroke-dasharray="1.799 1.799"/>
<line x1="424.05" y1="443.14" x2="452.40" y2="443.14" stroke="#231815" stroke-width="1.780" stroke-dasharray="1.799 1.799"/>
<line x1="422.25" y1="444.92" x2="452.40" y2="444.92" stroke="#231815" stroke-width="1.780" stroke-dasharray="1.799 1.799"/>
<line x1="424.05" y1="446.70" x2="452.40" y2="446.70" stroke="#231815" stroke-width="1.780" stroke-dasharray="1.799 1.799"/>
<line x1="422.25" y1="448.48" x2="452.40" y2="448.48" stroke="#231815" stroke-width="1.780" stroke-dasharray="1.799 1.799"/>
<line x1="424.05" y1="450.26" x2="452.40" y2="450.26" stroke="#231815" stroke-width="1.780" stroke-dasharray="1.799 1.799"/>
<line x1="422.25" y1="452.04" x2="452.40" y2="452.04" stroke="#231815" stroke-width="1.780" stroke-dasharray="1.799 1.799"/>
<line x1="424.05" y1="453.82" x2="452.40" y2="453.82" stroke="#231815" stroke-width="1.780" stroke-dasharray="1.799 1.799"/>
<line x1="422.25" y1="455.60" x2="452.40" y2="455.60" stroke="#231815" stroke-width="1.780" stroke-dasharray="1.799 1.799"/>
<line x1="424.05" y1="457.38" x2="452.40" y2="457.38" stroke="#231815" stroke-width="1.780" stroke-dasharray="1.799 1.799"/>
<line x1="422.25" y1="459.16" x2="452.40" y2="459.16" stroke="#231815" stroke-width="1.780" stroke-dasharray="1.799 1.799"/>
<line x1="424.05" y1="460.94" x2="452.40" y2="460.94" stroke="#231815" stroke-width="1.780" stroke-dasharray="1.799 1.799"/>
<line x1="422.25" y1="462.72" x2="452.40" y2="462.72" stroke="#231815" stroke-width="1.780" stroke-dasharray="1.799 1.799"/>
<line x1="424.05" y1="464.50" x2="452.40" y2="464.50" stroke="#231815" stroke-width="1.780" stroke-dasharray="1.799 1.799"/>
<line x1="422.25" y1="466.28" x2="452.40" y2="466.28" stroke="#231815" stroke-width="1.780" stroke-dasharray="1.799 1.799"/>
<line x1="424.05" y1="468.06" x2="452.40" y2="468.06" stroke="#231815" stroke-width="1.780" stroke-dasharray="1.799 1.799"/>
</g>
<rect x="422.5" y="438.5" width="29.90" height="29.20" fill="none" stroke="#231815" stroke-width="1.8"/>
<line x1="482.0" y1="369.5" x2="482.0" y2="363.3" stroke="#231815" stroke-width="1.75"/>
<line x1="474.3" y1="363.3" x2="489.9" y2="363.3" stroke="#231815" stroke-width="1.75"/>
<clipPath id="c16"><rect x="467.0" y="369.5" width="29.80" height="98.20"/></clipPath>
<g clip-path="url(#c16)">
<line x1="470.35" y1="371.47" x2="496.80" y2="371.47" stroke="#231815" stroke-width="3.560" stroke-dasharray="3.599 3.599"/>
<line x1="466.75" y1="375.03" x2="496.80" y2="375.03" stroke="#231815" stroke-width="3.560" stroke-dasharray="3.599 3.599"/>
<line x1="470.35" y1="378.59" x2="496.80" y2="378.59" stroke="#231815" stroke-width="3.560" stroke-dasharray="3.599 3.599"/>
<line x1="466.75" y1="382.15" x2="496.80" y2="382.15" stroke="#231815" stroke-width="3.560" stroke-dasharray="3.599 3.599"/>
<line x1="470.35" y1="385.71" x2="496.80" y2="385.71" stroke="#231815" stroke-width="3.560" stroke-dasharray="3.599 3.599"/>
<line x1="466.75" y1="389.27" x2="496.80" y2="389.27" stroke="#231815" stroke-width="3.560" stroke-dasharray="3.599 3.599"/>
<line x1="470.35" y1="392.83" x2="496.80" y2="392.83" stroke="#231815" stroke-width="3.560" stroke-dasharray="3.599 3.599"/>
<line x1="466.75" y1="396.39" x2="496.80" y2="396.39" stroke="#231815" stroke-width="3.560" stroke-dasharray="3.599 3.599"/>
<line x1="470.35" y1="399.95" x2="496.80" y2="399.95" stroke="#231815" stroke-width="3.560" stroke-dasharray="3.599 3.599"/>
<line x1="466.75" y1="403.51" x2="496.80" y2="403.51" stroke="#231815" stroke-width="3.560" stroke-dasharray="3.599 3.599"/>
<line x1="470.35" y1="407.07" x2="496.80" y2="407.07" stroke="#231815" stroke-width="3.560" stroke-dasharray="3.599 3.599"/>
<line x1="466.75" y1="410.63" x2="496.80" y2="410.63" stroke="#231815" stroke-width="3.560" stroke-dasharray="3.599 3.599"/>
<line x1="470.35" y1="414.19" x2="496.80" y2="414.19" stroke="#231815" stroke-width="3.560" stroke-dasharray="3.599 3.599"/>
<line x1="466.75" y1="417.75" x2="496.80" y2="417.75" stroke="#231815" stroke-width="3.560" stroke-dasharray="3.599 3.599"/>
<line x1="470.35" y1="421.31" x2="496.80" y2="421.31" stroke="#231815" stroke-width="3.560" stroke-dasharray="3.599 3.599"/>
<line x1="466.75" y1="424.87" x2="496.80" y2="424.87" stroke="#231815" stroke-width="3.560" stroke-dasharray="3.599 3.599"/>
<line x1="470.35" y1="428.43" x2="496.80" y2="428.43" stroke="#231815" stroke-width="3.560" stroke-dasharray="3.599 3.599"/>
<line x1="466.75" y1="431.99" x2="496.80" y2="431.99" stroke="#231815" stroke-width="3.560" stroke-dasharray="3.599 3.599"/>
<line x1="470.35" y1="435.55" x2="496.80" y2="435.55" stroke="#231815" stroke-width="3.560" stroke-dasharray="3.599 3.599"/>
<line x1="466.75" y1="439.11" x2="496.80" y2="439.11" stroke="#231815" stroke-width="3.560" stroke-dasharray="3.599 3.599"/>
<line x1="470.35" y1="442.67" x2="496.80" y2="442.67" stroke="#231815" stroke-width="3.560" stroke-dasharray="3.599 3.599"/>
<line x1="466.75" y1="446.23" x2="496.80" y2="446.23" stroke="#231815" stroke-width="3.560" stroke-dasharray="3.599 3.599"/>
<line x1="470.35" y1="449.79" x2="496.80" y2="449.79" stroke="#231815" stroke-width="3.560" stroke-dasharray="3.599 3.599"/>
<line x1="466.75" y1="453.35" x2="496.80" y2="453.35" stroke="#231815" stroke-width="3.560" stroke-dasharray="3.599 3.599"/>
<line x1="470.35" y1="456.91" x2="496.80" y2="456.91" stroke="#231815" stroke-width="3.560" stroke-dasharray="3.599 3.599"/>
<line x1="466.75" y1="460.47" x2="496.80" y2="460.47" stroke="#231815" stroke-width="3.560" stroke-dasharray="3.599 3.599"/>
<line x1="470.35" y1="464.03" x2="496.80" y2="464.03" stroke="#231815" stroke-width="3.560" stroke-dasharray="3.599 3.599"/>
<line x1="466.75" y1="467.59" x2="496.80" y2="467.59" stroke="#231815" stroke-width="3.560" stroke-dasharray="3.599 3.599"/>
</g>
<rect x="467.0" y="369.5" width="29.80" height="98.20" fill="none" stroke="#231815" stroke-width="1.8"/>
<text x="479.05" y="350.90" font-family="Liberation Serif, serif" font-size="11.8" fill="#3a3432">*</text>
<line x1="526.4" y1="331.5" x2="526.4" y2="321.3" stroke="#231815" stroke-width="1.75"/>
<line x1="518.6" y1="321.3" x2="534.3" y2="321.3" stroke="#231815" stroke-width="1.75"/>
<clipPath id="c17"><rect x="511.8" y="331.5" width="29.60" height="136.20"/></clipPath>
<g clip-path="url(#c17)">
<path d="M511.80 335.66H541.40M511.80 339.28H541.40M511.80 342.90H541.40M511.80 346.52H541.40M511.80 350.14H541.40M511.80 353.76H541.40M511.80 357.38H541.40M511.80 361.00H541.40M511.80 364.62H541.40M511.80 368.24H541.40M511.80 371.86H541.40M511.80 375.48H541.40M511.80 379.09H541.40M511.80 382.71H541.40M511.80 386.33H541.40M511.80 389.95H541.40M511.80 393.57H541.40M511.80 397.19H541.40M511.80 400.81H541.40M511.80 404.43H541.40M511.80 408.05H541.40M511.80 411.67H541.40M511.80 415.29H541.40M511.80 418.91H541.40M511.80 422.53H541.40M511.80 426.15H541.40M511.80 429.77H541.40M511.80 433.38H541.40M511.80 437.00H541.40M511.80 440.62H541.40M511.80 444.24H541.40M511.80 447.86H541.40M511.80 451.48H541.40M511.80 455.10H541.40M511.80 458.72H541.40M511.80 462.34H541.40M511.80 465.96H541.40" stroke="#231815" stroke-width="0.99" fill="none"/>
</g>
<rect x="511.8" y="331.5" width="29.60" height="136.20" fill="none" stroke="#231815" stroke-width="1.8"/>
<text x="520.50" y="308.80" font-family="Liberation Serif, serif" font-size="11.8" fill="#3a3432">*#</text>
<line x1="571.0" y1="369.3" x2="571.0" y2="358.7" stroke="#231815" stroke-width="1.75"/>
<line x1="563.4" y1="358.7" x2="579.0" y2="358.7" stroke="#231815" stroke-width="1.75"/>
<clipPath id="c18"><rect x="555.8" y="369.3" width="30.10" height="98.40"/></clipPath>
<g clip-path="url(#c18)">
<path d="M560.82 369.30V467.70M565.83 369.30V467.70M570.85 369.30V467.70M575.87 369.30V467.70M580.88 369.30V467.70" stroke="#231815" stroke-width="0.99" fill="none"/>
</g>
<rect x="555.8" y="369.3" width="30.10" height="98.40" fill="none" stroke="#231815" stroke-width="1.8"/>
<text x="565.28" y="345.30" font-family="Liberation Serif, serif" font-size="11.8" fill="#3a3432">*</text>
<path d="M571.65 341.76L573.96 337.57L576.26 341.76" fill="none" stroke="#3a3432" stroke-width="0.75" stroke-linejoin="miter"/>
<line x1="615.8" y1="403.3" x2="615.8" y2="394.5" stroke="#231815" stroke-width="1.75"/>
<line x1="608.1" y1="394.5" x2="623.5" y2="394.5" stroke="#231815" stroke-width="1.75"/>
<clipPath id="c19"><rect x="600.5" y="403.3" width="30.00" height="64.40"/></clipPath>
<g clip-path="url(#c19)">
<path d="M602.05 403.30l-64.40 64.40M605.70 403.30l-64.40 64.40M609.35 403.30l-64.40 64.40M613.00 403.30l-64.40 64.40M616.65 403.30l-64.40 64.40M620.30 403.30l-64.40 64.40M623.95 403.30l-64.40 64.40M627.60 403.30l-64.40 64.40M631.25 403.30l-64.40 64.40M634.90 403.30l-64.40 64.40M638.55 403.30l-64.40 64.40M642.20 403.30l-64.40 64.40M645.85 403.30l-64.40 64.40M649.50 403.30l-64.40 64.40M653.15 403.30l-64.40 64.40M656.80 403.30l-64.40 64.40M660.45 403.30l-64.40 64.40M664.10 403.30l-64.40 64.40M667.75 403.30l-64.40 64.40M671.40 403.30l-64.40 64.40M675.05 403.30l-64.40 64.40M678.70 403.30l-64.40 64.40M682.35 403.30l-64.40 64.40M686.00 403.30l-64.40 64.40M689.65 403.30l-64.40 64.40M693.30 403.30l-64.40 64.40" stroke="#231815" stroke-width="1.02" fill="none"/>
</g>
<rect x="600.5" y="403.3" width="30.00" height="64.40" fill="none" stroke="#231815" stroke-width="1.8"/>
<text x="607.13" y="381.80" font-family="Liberation Serif, serif" font-size="11.8" fill="#3a3432">*#</text>
<path d="M619.40 378.26L621.71 374.07L624.01 378.26" fill="none" stroke="#3a3432" stroke-width="0.75" stroke-linejoin="miter"/>
<line x1="660.5" y1="371.8" x2="660.5" y2="361.0" stroke="#231815" stroke-width="1.75"/>
<line x1="652.5" y1="361.0" x2="668.7" y2="361.0" stroke="#231815" stroke-width="1.75"/>
<clipPath id="c20"><rect x="645.5" y="371.8" width="29.70" height="95.90"/></clipPath>
<g clip-path="url(#c20)">
<path d="M545.60 371.80l95.90 95.90M549.25 371.80l95.90 95.90M552.90 371.80l95.90 95.90M556.55 371.80l95.90 95.90M560.20 371.80l95.90 95.90M563.85 371.80l95.90 95.90M567.50 371.80l95.90 95.90M571.15 371.80l95.90 95.90M574.80 371.80l95.90 95.90M578.45 371.80l95.90 95.90M582.10 371.80l95.90 95.90M585.75 371.80l95.90 95.90M589.40 371.80l95.90 95.90M593.05 371.80l95.90 95.90M596.70 371.80l95.90 95.90M600.35 371.80l95.90 95.90M604.00 371.80l95.90 95.90M607.65 371.80l95.90 95.90M611.30 371.80l95.90 95.90M614.95 371.80l95.90 95.90M618.60 371.80l95.90 95.90M622.25 371.80l95.90 95.90M625.90 371.80l95.90 95.90M629.55 371.80l95.90 95.90M633.20 371.80l95.90 95.90M636.85 371.80l95.90 95.90M640.50 371.80l95.90 95.90M644.15 371.80l95.90 95.90M647.80 371.80l95.90 95.90M651.45 371.80l95.90 95.90M655.10 371.80l95.90 95.90M658.75 371.80l95.90 95.90M662.40 371.80l95.90 95.90M666.05 371.80l95.90 95.90M669.70 371.80l95.90 95.90M673.35 371.80l95.90 95.90" stroke="#231815" stroke-width="1.02" fill="none"/>
</g>
<rect x="645.5" y="371.8" width="29.70" height="95.90" fill="none" stroke="#231815" stroke-width="1.8"/>
<text x="654.78" y="347.80" font-family="Liberation Serif, serif" font-size="11.8" fill="#3a3432">*</text>
<path d="M661.15 344.26L663.46 340.07L665.76 344.26" fill="none" stroke="#3a3432" stroke-width="0.75" stroke-linejoin="miter"/>
<line x1="415.4" y1="288.42499999999995" x2="415.4" y2="468.675" stroke="#231815" stroke-width="1.95"/>
<line x1="409.09999999999997" y1="467.7" x2="683.9" y2="467.7" stroke="#231815" stroke-width="1.95"/>
<line x1="409.09999999999997" y1="467.7" x2="415.4" y2="467.7" stroke="#231815" stroke-width="1.95"/>
<text x="407.79999999999995" y="473.0" font-family="Liberation Serif, serif" font-weight="bold" font-size="15.5" fill="#231815" text-anchor="end">0</text>
<line x1="409.09999999999997" y1="423.0" x2="415.4" y2="423.0" stroke="#231815" stroke-width="1.95"/>
<text x="407.79999999999995" y="428.3" font-family="Liberation Serif, serif" font-weight="bold" font-size="15.5" fill="#231815" text-anchor="end">10</text>
<line x1="409.09999999999997" y1="378.5" x2="415.4" y2="378.5" stroke="#231815" stroke-width="1.95"/>
<text x="407.79999999999995" y="383.8" font-family="Liberation Serif, serif" font-weight="bold" font-size="15.5" fill="#231815" text-anchor="end">20</text>
<line x1="409.09999999999997" y1="334.0" x2="415.4" y2="334.0" stroke="#231815" stroke-width="1.95"/>
<text x="407.79999999999995" y="339.3" font-family="Liberation Serif, serif" font-weight="bold" font-size="15.5" fill="#231815" text-anchor="end">30</text>
<line x1="409.09999999999997" y1="289.4" x2="415.4" y2="289.4" stroke="#231815" stroke-width="1.95"/>
<text x="407.79999999999995" y="294.7" font-family="Liberation Serif, serif" font-weight="bold" font-size="15.5" fill="#231815" text-anchor="end">40</text>
<line x1="437.2" y1="467.7" x2="437.2" y2="473.5" stroke="#231815" stroke-width="1.95"/>
<text transform="translate(440.7,490.7) rotate(-30)" font-family="Liberation Serif, serif" font-weight="bold" font-size="14.9" fill="#231815" text-anchor="end">Sham</text>
<line x1="482" y1="467.7" x2="482" y2="473.5" stroke="#231815" stroke-width="1.95"/>
<text transform="translate(485.5,490.7) rotate(-30)" font-family="Liberation Serif, serif" font-weight="bold" font-size="14.9" fill="#231815" text-anchor="end">I/R</text>
<line x1="526.3" y1="467.7" x2="526.3" y2="473.5" stroke="#231815" stroke-width="1.95"/>
<text transform="translate(529.8,490.7) rotate(-30)" font-family="Liberation Serif, serif" font-weight="bold" font-size="14.9" fill="#231815" text-anchor="end">miR-10a</text>
<line x1="571" y1="467.7" x2="571" y2="473.5" stroke="#231815" stroke-width="1.95"/>
<text transform="translate(574.5,490.7) rotate(-30)" font-family="Liberation Serif, serif" font-weight="bold" font-size="14.9" fill="#231815" text-anchor="end">miR-NC</text>
<line x1="615.8" y1="467.7" x2="615.8" y2="473.5" stroke="#231815" stroke-width="1.95"/>
<text transform="translate(619.3,490.7) rotate(-30)" font-family="Liberation Serif, serif" font-weight="bold" font-size="14.9" fill="#231815" text-anchor="end">anti-miR</text>
<line x1="660.5" y1="467.7" x2="660.5" y2="473.5" stroke="#231815" stroke-width="1.95"/>
<text transform="translate(664.0,490.7) rotate(-30)" font-family="Liberation Serif, serif" font-weight="bold" font-size="14.9" fill="#231815" text-anchor="end">anti-NC</text>
<text transform="translate(383.5,424.9) rotate(-90)" font-family="Liberation Serif, serif" font-weight="bold" font-size="15.5" fill="#231815" textLength="93.8" lengthAdjust="spacingAndGlyphs">BUN(mmol/L)</text>
<text x="346.4" y="286.0" font-family="Liberation Serif, serif" font-size="24.5" fill="#231815">D</text>
</g>
</svg>
</body></html>
